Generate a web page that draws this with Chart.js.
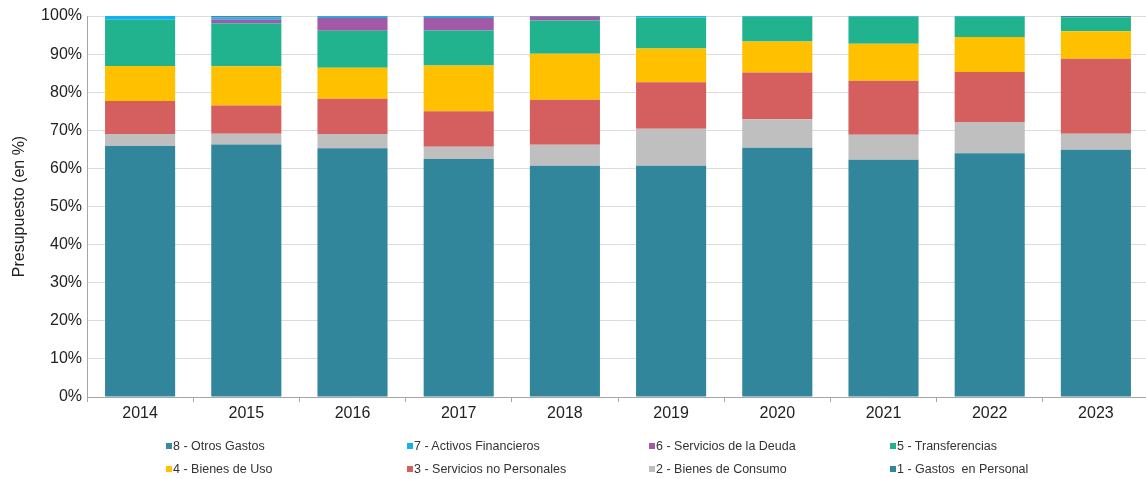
<!DOCTYPE html>
<html lang="es">
<head>
<meta charset="utf-8">
<title>Presupuesto por inciso</title>
<script src="https://cdn.jsdelivr.net/npm/chart.js@4.4.1/dist/chart.umd.min.js"></script>
<style>
  html, body { margin: 0; padding: 0; background: #fff; }
  #wrap { position: relative; width: 1146px; height: 479px; overflow: hidden; }
  #chartBox { position: absolute; left: 0; top: 0; width: 1149px; height: 479px; }
  #legend { position: absolute; left: 0; top: 0; width: 1146px; height: 479px; pointer-events: none;
    font-family: "Liberation Sans", Arial, sans-serif; font-size: 12.5px; color: #333; }
  .lg-item { position: absolute; display: flex; align-items: center; white-space: pre; height: 14px; }
  .lg-box { width: 6px; height: 6px; margin-right: 1px; }
</style>
</head>
<body>
<div id="wrap">
  <div id="chartBox"><canvas id="budgetChart"></canvas></div>
  <div id="legend"></div>
</div>
<script>
// years on the x axis
const YEARS = ["2014", "2015", "2016", "2017", "2018", "2019", "2020", "2021", "2022", "2023"];

// share of budget per inciso (in %), bottom of the stack first
const personal   = [65.9, 66.3, 65.3, 62.5, 60.7, 60.7, 65.4, 62.3, 64.0, 64.9];
const consumo    = [3.1, 2.8, 3.7, 3.2, 5.5, 9.7, 7.5, 6.5, 8.2, 4.2];
const noPersonal = [8.7, 7.4, 9.3, 9.3, 11.8, 12.2, 12.3, 14.2, 13.1, 19.7];
const bienesUso  = [9.2, 10.3, 8.1, 12.0, 12.1, 8.9, 8.1, 9.7, 9.2, 7.2];
const transfer   = [12.1, 11.3, 9.7, 9.2, 8.7, 8.1, 6.5, 7.1, 5.3, 3.7];
const deuda      = [0, 1.0, 3.4, 3.3, 1.0, 0, 0, 0, 0, 0];
const activos    = [1.0, 0.5, 0.3, 0.3, 0, 0.4, 0.2, 0.2, 0.2, 0];
const otros      = [0, 0.4, 0.2, 0.2, 0.2, 0, 0, 0, 0, 0.3];

const Y_TICKS = [0, 10, 20, 30, 40, 50, 60, 70, 80, 90, 100];

const SERIES = [
  { label: "1 - Gastos  en Personal", data: personal, color: "#31869c" },
  { label: "2 - Bienes de Consumo", data: consumo, color: "#bfbfbf" },
  { label: "3 - Servicios no Personales", data: noPersonal, color: "#d55f5f" },
  { label: "4 - Bienes de Uso", data: bienesUso, color: "#ffc000" },
  { label: "5 - Transferencias", data: transfer, color: "#21b38e" },
  { label: "6 - Servicios de la Deuda", data: deuda, color: "#a259a8" },
  { label: "7 - Activos Financieros", data: activos, color: "#14b0f2" },
  { label: "8 - Otros Gastos", data: otros, color: "#3b8aa2" },
];

const FONT = "'Liberation Sans', Arial, sans-serif";
const $ = (s) => document.querySelector(s);

function buildLegend() {
  const box = $("#legend");
  // legend reads top-left to bottom-right, starting with the last series
  const order = SERIES.slice().reverse();
  const cols = [166, 407, 649, 890];
  const rows = [439, 462];
  order.forEach((s, i) => {
    const item = document.createElement("div");
    item.className = "lg-item";
    item.style.left = cols[i % 4] + "px";
    item.style.top = rows[Math.floor(i / 4)] + "px";
    const sw = document.createElement("span");
    sw.className = "lg-box";
    sw.style.background = s.color;
    const txt = document.createElement("span");
    txt.textContent = s.label;
    item.appendChild(sw);
    item.appendChild(txt);
    box.appendChild(item);
  });
}

function renderChart() {
  const ctx = document.getElementById("budgetChart");
  new Chart(ctx, {
    type: "bar",
    data: {
      labels: YEARS,
      datasets: SERIES.map((s) => ({
        label: s.label,
        data: s.data,
        backgroundColor: s.color,
        borderWidth: 0,
        categoryPercentage: 1,
        barPercentage: 0.66,
      })),
    },
    options: {
      responsive: true,
      maintainAspectRatio: false,
      animation: false,
      layout: { padding: { top: 16, right: 0, bottom: 52, left: 0 } },
      scales: {
        x: {
          stacked: true,
          offset: true,
          grid: { offset: true, drawOnChartArea: false, color: "#a6a6a6", tickLength: 5, tickColor: "#a6a6a6" },
          border: { color: "#a6a6a6" },
          ticks: { color: "#222", font: { family: FONT, size: 16 }, padding: 2, maxRotation: 0 },
          afterFit: (scale) => { scale.height = 30; },
        },
        y: {
          stacked: true,
          min: 0,
          max: 100,
          afterBuildTicks: (scale) => { scale.ticks = Y_TICKS.map((v) => ({ value: v })); },
          grid: { color: "#dcdcdc", drawTicks: false },
          border: { color: "#a6a6a6" },
          ticks: { color: "#222", font: { family: FONT, size: 16 }, padding: 5, callback: (v) => v + "%" },
          title: { display: true, text: "Presupuesto (en %)", color: "#222", font: { family: FONT, size: 16 }, padding: { top: 10, bottom: 0 } },
          afterFit: (scale) => { scale.width = 87; },
        },
      },
      plugins: { legend: { display: false }, tooltip: { enabled: false } },
    },
  });
}

window.addEventListener("DOMContentLoaded", () => {
  buildLegend();
  renderChart();
});
</script>
</body>
</html>
